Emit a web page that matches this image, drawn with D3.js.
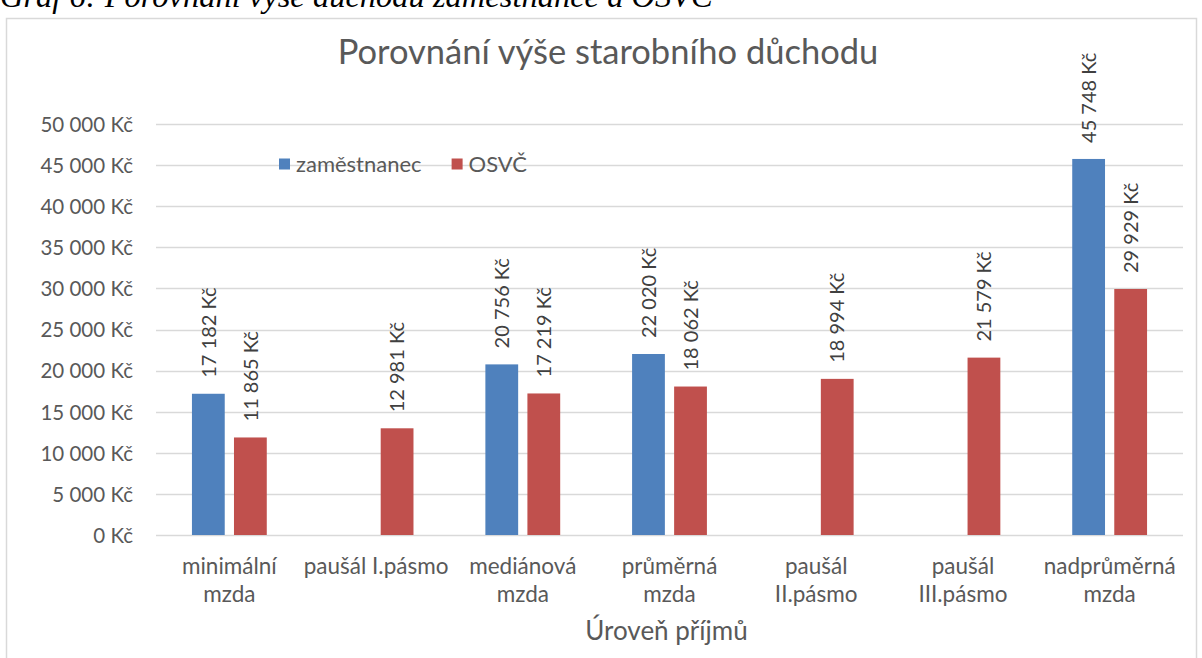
<!DOCTYPE html>
<html>
<head>
<meta charset="utf-8">
<script src="https://cdn.jsdelivr.net/npm/d3@7"></script>
<style>
  html, body { margin: 0; padding: 0; background: #fff; }
  svg { display: block; }
</style>
</head>
<body>
<svg id="chart" width="1202" height="658"></svg>
<script>
// chart data
const categories = [
  ["minimální", "mzda"],
  ["paušál I.pásmo"],
  ["mediánová", "mzda"],
  ["průměrná", "mzda"],
  ["paušál", "II.pásmo"],
  ["paušál", "III.pásmo"],
  ["nadprůměrná", "mzda"]
];
const seriesNames = ["zaměstnanec", "OSVČ"];
const zamestnanec = [17182, null, 20756, 22020, null, null, 45748];
const osvc = [11865, 12981, 17219, 18062, 18994, 21579, 29929];
const yTicks = [0, 5000, 10000, 15000, 20000, 25000, 30000, 35000, 40000, 45000, 50000];
const colors = ["#4F81BD", "#C0504D"];

const width = 1202;
const height = 658;
const plot = { left: 156, right: 1183, top: 124, bottom: 535 };
const font = "Lato, 'Open Sans', sans-serif";
const textColor = "#595959";

const svg = d3.select("#chart");

// thousands with a space, like the Czech Excel output
const fmt = v => d3.format(",")(v).replace(/,/g, "\u00a0") + "\u00a0Kč";

// caption above the chart frame (cut off at the top in the source)
svg.append("text")
  .attr("x", 0)
  .attr("y", 7)
  .attr("font-family", "'Liberation Serif', 'Times New Roman', serif")
  .attr("font-style", "italic")
  .attr("font-size", 32.5)
  .attr("fill", "#000")
  .text("Graf 6: Porovnání výše důchodu zaměstnance a OSVČ");

// chart frame
svg.append("rect")
  .attr("x", 6.5).attr("y", 18.5)
  .attr("width", 1190).attr("height", 645)
  .attr("fill", "none")
  .attr("stroke", "#d9d9d9")
  .attr("stroke-width", 1.5);

const catIdx = categories.map((c, i) => i);

const x0 = d3.scaleBand()
  .domain(catIdx)
  .range([plot.left, plot.right]);

const x1 = d3.scaleBand()
  .domain(seriesNames)
  .range([x0.bandwidth() * 0.245, x0.bandwidth() * 0.755])
  .paddingInner(0.22);

const y = d3.scaleLinear()
  .domain([0, 50000])
  .range([plot.bottom, plot.top]);

// gridlines
svg.append("g")
  .attr("class", "grid")
  .selectAll("line")
  .data(yTicks)
  .join("line")
  .attr("x1", plot.left)
  .attr("x2", plot.right)
  .attr("y1", d => Math.round(y(d)) + 0.5)
  .attr("y2", d => Math.round(y(d)) + 0.5)
  .attr("stroke", "#d9d9d9")
  .attr("stroke-width", 1.5);

// y axis labels
const yAxis = d3.axisLeft(y)
  .tickValues(yTicks)
  .tickSize(0)
  .tickPadding(0)
  .tickFormat(fmt);

svg.append("g")
  .attr("class", "y-axis")
  .attr("transform", "translate(133,0)")
  .call(yAxis)
  .call(g => g.select(".domain").remove())
  .call(g => g.selectAll("text")
    .attr("font-family", font)
    .attr("font-size", 20.5)
    .attr("fill", textColor)
    .attr("dy", "0.36em"));

// bars
const rows = catIdx.map(i => ({ i, values: [zamestnanec[i], osvc[i]] }));

const groups = svg.append("g")
  .attr("class", "plot-area")
  .selectAll("g")
  .data(rows)
  .join("g")
  .attr("transform", d => `translate(${x0(d.i)},0)`);

const cells = groups.selectAll("g")
  .data(d => d.values.map((v, k) => ({ v, k })).filter(e => e.v != null))
  .join("g");

cells.append("rect")
  .attr("x", d => x1(seriesNames[d.k]))
  .attr("width", x1.bandwidth())
  .attr("y", d => y(d.v))
  .attr("height", d => y(0) - y(d.v))
  .attr("fill", d => colors[d.k]);

// data labels, rotated
cells.append("text")
  .attr("transform", d => {
    const cx = x1(seriesNames[d.k]) + x1.bandwidth() / 2;
    return `translate(${cx},${y(d.v) - 16}) rotate(-90)`;
  })
  .attr("dy", "0.36em")
  .attr("font-family", font)
  .attr("font-size", 20)
  .attr("fill", "#404040")
  .text(d => fmt(d.v));

// x axis category labels
const xAxis = svg.append("g").attr("class", "x-axis");
xAxis.selectAll("text")
  .data(rows)
  .join("text")
  .attr("x", d => x0(d.i) + x0.bandwidth() / 2)
  .attr("y", 574)
  .attr("text-anchor", "middle")
  .attr("font-family", font)
  .attr("font-size", 22.5)
  .attr("fill", textColor)
  .selectAll("tspan")
  .data(d => categories[d.i])
  .join("tspan")
  .attr("x", function() { return this.parentNode.getAttribute("x"); })
  .attr("dy", (d, k) => k === 0 ? 0 : 28)
  .text(d => d);

// axis title
svg.append("text")
  .attr("x", (plot.left + plot.right) / 2 - 3)
  .attr("y", 640)
  .attr("text-anchor", "middle")
  .attr("font-family", font)
  .attr("font-size", 26)
  .attr("fill", textColor)
  .text("Úroveň příjmů");

// chart title
svg.append("text")
  .attr("x", 608)
  .attr("y", 64)
  .attr("text-anchor", "middle")
  .attr("font-family", font)
  .attr("font-size", 34.5)
  .attr("fill", textColor)
  .text("Porovnání výše starobního důchodu");

// legend
const legend = svg.append("g")
  .attr("class", "legend")
  .attr("transform", "translate(279,164)");

let lx = 0;
seriesNames.forEach((name, k) => {
  const item = legend.append("g").attr("transform", `translate(${lx},0)`);
  item.append("rect")
    .attr("x", 0).attr("y", -5.5)
    .attr("width", 11).attr("height", 11)
    .attr("fill", colors[k]);
  const t = item.append("text")
    .attr("x", 17)
    .attr("dy", "0.36em")
    .attr("font-family", font)
    .attr("font-size", 22)
    .attr("fill", textColor)
    .text(name);
  lx += 17 + t.node().getComputedTextLength() + 30;
});
</script>
</body>
</html>
